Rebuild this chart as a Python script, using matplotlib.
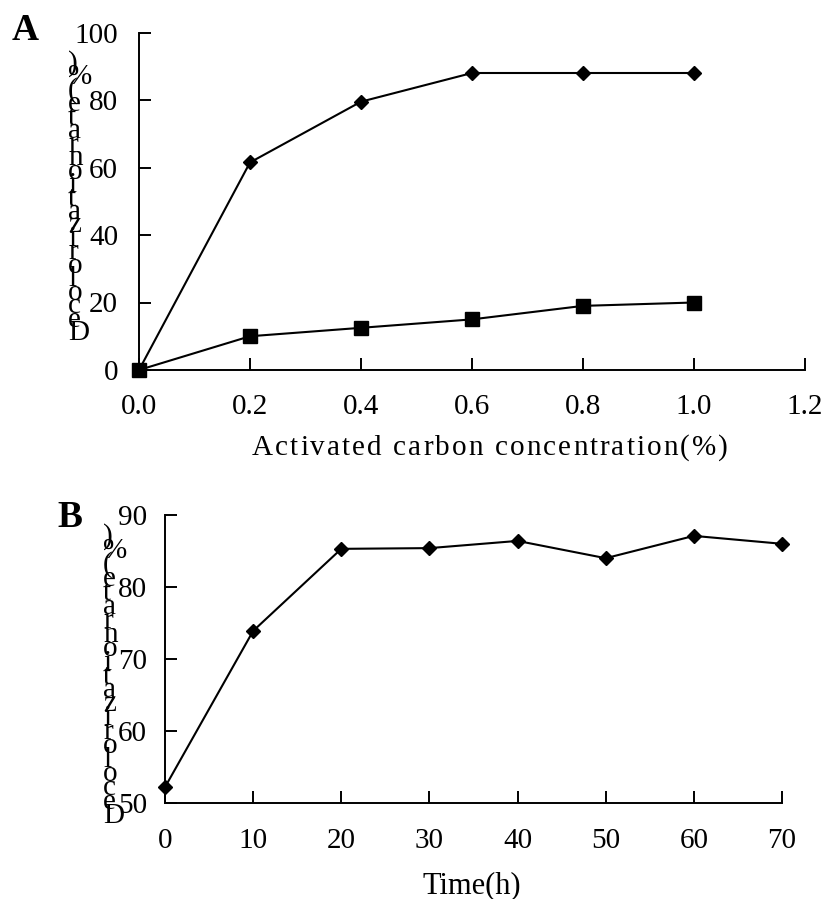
import matplotlib
matplotlib.use('Agg')
import matplotlib.pyplot as plt
import numpy as np

plt.rcParams['font.family'] = ['Liberation Serif', 'DejaVu Serif']

# Panel A: decolorization vs activated carbon concentration
carbon_conc = [0.0, 0.2, 0.4, 0.6, 0.8, 1.0]
decol_diamond = [0, 61.5, 79.5, 88, 88, 88]
decol_square = [0, 10, 12.5, 15, 19, 20]

# Panel B: decolorization vs time
time_h = [0, 10, 20, 30, 40, 50, 60, 70]
decol_time = [52.2, 73.9, 85.3, 85.4, 86.4, 84.0, 87.1, 86.0]

ylabel_text = "Decolorization rate(%)"

W, H = 824, 899
fig = plt.figure(figsize=(W / 100, H / 100), dpi=100)


def box(l, t, r, b):
    # pixel box (from top-left) -> figure fraction rect
    return [l / W, 1 - b / H, (r - l) / W, (b - t) / H]


def fpos(x, y):
    return x / W, 1 - y / H


axA = fig.add_axes(box(139, 32.5, 805, 370))
axB = fig.add_axes(box(165, 515, 782, 803))

for ax in (axA, axB):
    ax.spines['top'].set_visible(False)
    ax.spines['right'].set_visible(False)
    for s in ('left', 'bottom'):
        ax.spines[s].set_linewidth(1.4)
    ax.tick_params(direction='in', length=8.6, width=1.4, labelsize=21)

# Panel A
axA.plot(carbon_conc, decol_diamond, color='k', lw=1.5, marker='D', ms=7, clip_on=False, zorder=3)
axA.plot(carbon_conc, decol_square, color='k', lw=1.5, marker='s', ms=10, clip_on=False, zorder=3)
axA.set_xlim(0, 1.2)
axA.set_ylim(0, 100)
axA.set_xticks(np.arange(0, 1.21, 0.2))
axA.set_xticklabels(['%.1f' % v for v in np.arange(0, 1.21, 0.2)])
axA.set_yticks(range(0, 101, 20))
axA.tick_params(axis='x', pad=17)
axA.tick_params(axis='y', pad=15)

# Panel B
axB.plot(time_h, decol_time, color='k', lw=1.5, marker='D', ms=7, clip_on=False, zorder=3)
axB.set_xlim(0, 70)
axB.set_ylim(50, 90)
axB.set_xticks(range(0, 71, 10))
axB.set_yticks(range(50, 91, 10))
axB.tick_params(axis='x', pad=18)
axB.tick_params(axis='y', pad=13)


# y labels: characters stacked upright, bottom to top
def stacked_label(x_left, y_base, step, text, size=21):
    chars = [c for c in text if c != ' ']
    for i, c in enumerate(chars):
        fig.text(*fpos(x_left, y_base - i * step), c, ha='left', va='baseline', fontsize=size)


stacked_label(68, 340, 13.45, ylabel_text)
stacked_label(103, 823, 13.95, ylabel_text)

# x label of A with wide letter spacing
renderer = fig.canvas.get_renderer()


def spaced_text(x0, x1, y_base, s, size):
    prop = matplotlib.font_manager.FontProperties(family=['Liberation Serif'], size=size)
    widths = [renderer.get_text_width_height_descent(c, prop, ismath=False)[0] for c in s]
    extra = ((x1 - x0) - sum(widths)) / (len(s) - 1)
    x = x0
    for c, w in zip(s, widths):
        fig.text(*fpos(x, y_base), c, ha='left', va='baseline', fontproperties=prop)
        x += w + extra


spaced_text(252, 728, 455, "Activated carbon concentration(%)", 21)
fig.text(*fpos(472, 893), "Time(h)", ha='center', va='baseline', fontsize=22)

# panel letters
fig.text(*fpos(12, 40), "A", ha='left', va='baseline', fontsize=27, fontweight='bold')
fig.text(*fpos(57, 527), "B", ha='left', va='baseline', fontsize=27, fontweight='bold')

fig.savefig('out.png', dpi=100)
